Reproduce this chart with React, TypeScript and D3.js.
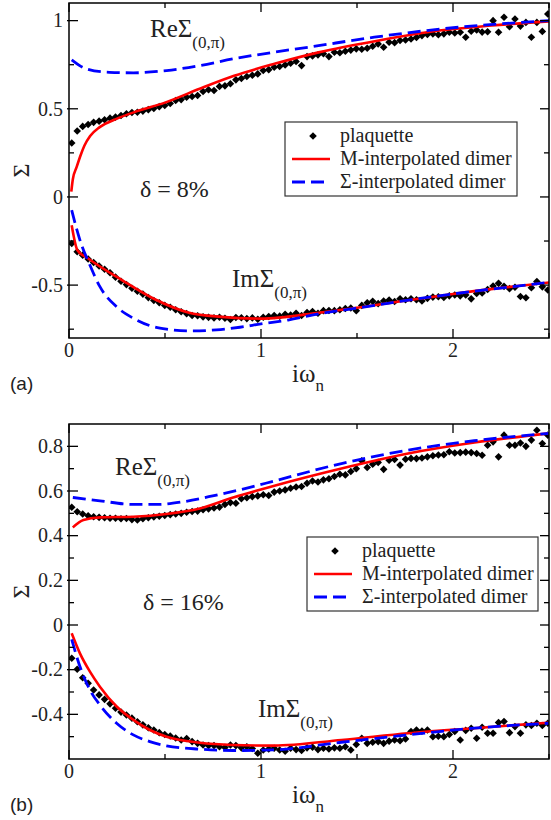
import React from 'react';
import * as d3 from 'd3';

// Matsubara grid (index -> omega)
const OMEGA_0 = 0.01425;
const OMEGA_STEP = 0.0285;

// ---------- Panel (a), delta = 8% ----------
const plaqReA = [
  0.306, 0.374, 0.400, 0.411, 0.423, 0.430, 0.438, 0.447, 0.453, 0.462,
  0.472, 0.479, 0.480, 0.487, 0.495, 0.502, 0.512, 0.519, 0.530, 0.547,
  0.552, 0.566, 0.570, 0.575, 0.598, 0.608, 0.604, 0.627, 0.630, 0.642,
  0.664, 0.672, 0.683, 0.690, 0.698, 0.717, 0.722, 0.736, 0.740, 0.749,
  0.758, 0.768, 0.745, 0.796, 0.800, 0.806, 0.812, 0.796, 0.821, 0.818,
  0.826, 0.833, 0.840, 0.838, 0.843, 0.855, 0.868, 0.849, 0.877, 0.875,
  0.887, 0.890, 0.896, 0.905, 0.915, 0.922, 0.925, 0.920, 0.925, 0.934,
  0.930, 0.934, 0.906, 0.940, 0.947, 0.935, 0.937, 1.000, 0.934, 1.019,
  0.966, 1.009, 0.969, 0.990, 0.906, 0.990, 0.939, 1.038,
];
const plaqImA = [
  -0.264, -0.311, -0.330, -0.352, -0.372, -0.392, -0.410, -0.430, -0.455, -0.478,
  -0.497, -0.518, -0.535, -0.551, -0.571, -0.587, -0.600, -0.615, -0.626, -0.640,
  -0.651, -0.662, -0.672, -0.674, -0.680, -0.683, -0.686, -0.682, -0.688, -0.695,
  -0.684, -0.685, -0.690, -0.686, -0.694, -0.682, -0.678, -0.672, -0.676, -0.666,
  -0.670, -0.660, -0.672, -0.655, -0.650, -0.660, -0.645, -0.644, -0.645, -0.640,
  -0.633, -0.630, -0.645, -0.615, -0.600, -0.592, -0.605, -0.590, -0.585, -0.593,
  -0.577, -0.583, -0.577, -0.583, -0.590, -0.575, -0.568, -0.566, -0.570, -0.561,
  -0.556, -0.561, -0.556, -0.578, -0.548, -0.545, -0.525, -0.505, -0.490, -0.507,
  -0.520, -0.512, -0.565, -0.572, -0.515, -0.480, -0.510, -0.528,
];
const mReA: [number, number][] = [
  [0.012, 0.03], [0.02, 0.10], [0.04, 0.17], [0.06, 0.235], [0.08, 0.29],
  [0.11, 0.345], [0.16, 0.396], [0.25, 0.444], [0.34, 0.481], [0.5, 0.535],
  [0.7, 0.622], [0.86, 0.687], [1.07, 0.755], [1.3, 0.82], [1.6, 0.885],
  [1.94, 0.945], [2.2, 0.972], [2.5, 0.996],
];
const sReA: [number, number][] = [
  [0.014, 0.778], [0.09, 0.727], [0.21, 0.707], [0.335, 0.704], [0.508, 0.717],
  [0.68, 0.745], [0.855, 0.783], [1.067, 0.821], [1.245, 0.849], [1.59, 0.906],
  [1.94, 0.953], [2.5, 1.0],
];
const mImA: [number, number][] = [
  [0.014, -0.16], [0.044, -0.302], [0.1, -0.349], [0.274, -0.47], [0.447, -0.58],
  [0.621, -0.655], [0.794, -0.68], [1.0, -0.69], [1.31, -0.655], [1.66, -0.603],
  [2.0, -0.55], [2.5, -0.485],
];
const sImA: [number, number][] = [
  [0.014, -0.075], [0.057, -0.245], [0.109, -0.387], [0.161, -0.509], [0.248, -0.623],
  [0.335, -0.688], [0.421, -0.73], [0.508, -0.75], [0.63, -0.76], [0.768, -0.754],
  [0.89, -0.739], [1.0, -0.72], [1.141, -0.698], [1.315, -0.66], [1.49, -0.632],
  [1.66, -0.603], [2.0, -0.55], [2.5, -0.485],
];

// ---------- Panel (b), delta = 16% ----------
const plaqReB = [
  0.527, 0.507, 0.497, 0.489, 0.485, 0.482, 0.480, 0.478, 0.478, 0.476,
  0.477, 0.472, 0.470, 0.476, 0.480, 0.484, 0.487, 0.490, 0.494, 0.497,
  0.500, 0.505, 0.508, 0.510, 0.516, 0.520, 0.524, 0.528, 0.540, 0.548,
  0.545, 0.565, 0.570, 0.575, 0.578, 0.583, 0.580, 0.595, 0.600, 0.605,
  0.612, 0.618, 0.620, 0.635, 0.645, 0.640, 0.650, 0.655, 0.665, 0.675,
  0.672, 0.687, 0.700, 0.735, 0.705, 0.720, 0.728, 0.697, 0.738, 0.741,
  0.716, 0.742, 0.746, 0.745, 0.748, 0.753, 0.758, 0.761, 0.762, 0.776,
  0.770, 0.772, 0.774, 0.772, 0.768, 0.760, 0.805, 0.820, 0.753, 0.850,
  0.805, 0.805, 0.815, 0.800, 0.828, 0.872, 0.813, 0.850,
];
const plaqImB = [
  -0.149, -0.198, -0.236, -0.261, -0.291, -0.313, -0.333, -0.353, -0.373, -0.390,
  -0.403, -0.417, -0.433, -0.447, -0.460, -0.470, -0.482, -0.490, -0.497, -0.506,
  -0.515, -0.508, -0.522, -0.530, -0.537, -0.540, -0.540, -0.545, -0.548, -0.537,
  -0.540, -0.550, -0.545, -0.553, -0.574, -0.560, -0.555, -0.552, -0.560, -0.565,
  -0.552, -0.558, -0.562, -0.550, -0.547, -0.558, -0.552, -0.555, -0.550, -0.552,
  -0.545, -0.560, -0.535, -0.507, -0.530, -0.525, -0.522, -0.530, -0.520, -0.515,
  -0.518, -0.510, -0.477, -0.470, -0.475, -0.470, -0.500, -0.498, -0.500, -0.490,
  -0.477, -0.515, -0.472, -0.462, -0.507, -0.458, -0.485, -0.485, -0.437, -0.432,
  -0.482, -0.455, -0.485, -0.447, -0.450, -0.440, -0.450, -0.440,
];
const mReB: [number, number][] = [
  [0.02, 0.437], [0.075, 0.47], [0.161, 0.482], [0.335, 0.485], [0.508, 0.497],
  [0.681, 0.522], [0.855, 0.571], [1.07, 0.624], [1.419, 0.701], [1.766, 0.768],
  [2.112, 0.817], [2.5, 0.858],
];
const sReB: [number, number][] = [
  [0.02, 0.571], [0.161, 0.556], [0.335, 0.54], [0.46, 0.54], [0.595, 0.552],
  [0.768, 0.582], [0.942, 0.616], [1.07, 0.645], [1.419, 0.723], [1.766, 0.783],
  [2.11, 0.825], [2.5, 0.858],
];
const mImB: [number, number][] = [
  [0.014, -0.037], [0.057, -0.127], [0.109, -0.209], [0.161, -0.276], [0.248, -0.365],
  [0.335, -0.425], [0.421, -0.47], [0.508, -0.5], [0.681, -0.527], [0.855, -0.537],
  [1.067, -0.54], [1.419, -0.515], [1.766, -0.485], [2.11, -0.462], [2.5, -0.437],
];
const sImB: [number, number][] = [
  [0.014, -0.064], [0.057, -0.186], [0.109, -0.291], [0.161, -0.358], [0.248, -0.44],
  [0.335, -0.492], [0.421, -0.522], [0.508, -0.541], [0.681, -0.556], [0.855, -0.562],
  [1.067, -0.559], [1.419, -0.525], [1.766, -0.492], [2.11, -0.462], [2.5, -0.44],
];

// ---------- Ticks ----------
const xMajor = [0, 1, 2];
const xMinor = [0.5, 1.5, 2.5];
const yMajorA = [-0.5, 0, 0.5, 1];
const yMinorA = [-0.75, -0.25, 0.25, 0.75];
const yMajorB = [-0.4, -0.2, 0, 0.2, 0.4, 0.6, 0.8];
const yMinorB = [-0.5, -0.3, -0.1, 0.1, 0.3, 0.5, 0.7];
const legendLabels = ['plaquette', 'M-interpolated dimer', 'Σ-interpolated dimer'];

const SERIF = '"Liberation Serif", "Times New Roman", serif';
const SANS = '"Liberation Sans", Arial, sans-serif';
const RED = '#ff0000';
const BLUE = '#0000ff';
const DASH = '13,6';

const fmt = (v: number) => {
  const s = String(Math.round(v * 100) / 100);
  return s;
};

function Diamond({ x, y, r = 3.8 }: { x: number; y: number; r?: number }) {
  return <path d={`M${x},${y - r}L${x + r},${y}L${x},${y + r}L${x - r},${y}Z`} fill="#000" />;
}

type PanelProps = {
  id: string;
  top: number;
  bottom: number;
  yDomain: [number, number];
  yMajor: number[];
  yMinor: number[];
  re: number[];
  im: number[];
  mRe: [number, number][];
  sRe: [number, number][];
  mIm: [number, number][];
  sIm: [number, number][];
  tag: string;
  delta: string;
  reLabel: { x: number; y: number };
  imLabel: { x: number; y: number };
  deltaPos: { x: number; y: number };
  legend: { x: number; y: number; w: number; h: number };
};

function Panel(p: PanelProps) {
  const left = 69, right = 549;
  const x = d3.scaleLinear().domain([0, 2.5]).range([left, right]);
  const y = d3.scaleLinear().domain(p.yDomain).range([p.bottom, p.top]);
  const line = d3.line<[number, number]>().x(d => x(d[0])).y(d => y(d[1])).curve(d3.curveMonotoneX);
  const omega = (i: number) => OMEGA_0 + OMEGA_STEP * i;
  const clipId = `clip-${p.id}`;
  const majLen = 9, minLen = 5;
  const lg = p.legend;
  const rowY = [lg.y + 14, lg.y + 37, lg.y + 60];
  return (
    <g>
      <defs>
        <clipPath id={clipId}>
          <rect x={left} y={p.top} width={right - left} height={p.bottom - p.top} />
        </clipPath>
      </defs>
      <g clipPath={`url(#${clipId})`}>
        {p.re.map((v, i) => <Diamond key={'r' + i} x={x(omega(i))} y={y(v)} />)}
        {p.im.map((v, i) => <Diamond key={'i' + i} x={x(omega(i))} y={y(v)} />)}
        <path d={line(p.mRe) || ''} fill="none" stroke={RED} strokeWidth={2.6} />
        <path d={line(p.mIm) || ''} fill="none" stroke={RED} strokeWidth={2.6} />
        <path d={line(p.sRe) || ''} fill="none" stroke={BLUE} strokeWidth={2.8} strokeDasharray={DASH} />
        <path d={line(p.sIm) || ''} fill="none" stroke={BLUE} strokeWidth={2.8} strokeDasharray={DASH} />
      </g>
      {/* frame */}
      <rect x={left} y={p.top} width={right - left} height={p.bottom - p.top} fill="none" stroke="#000" strokeWidth={1.5} />
      {/* x ticks */}
      {xMajor.map(t => (
        <g key={'xM' + t}>
          <line x1={x(t)} x2={x(t)} y1={p.bottom} y2={p.bottom - majLen} stroke="#000" strokeWidth={1.3} />
          <line x1={x(t)} x2={x(t)} y1={p.top} y2={p.top + majLen} stroke="#000" strokeWidth={1.3} />
          <text x={x(t)} y={p.bottom + 19} textAnchor="middle" fontFamily={SERIF} fontSize={20} fill="#222">{t}</text>
        </g>
      ))}
      {xMinor.map(t => (
        <g key={'xm' + t}>
          <line x1={x(t)} x2={x(t)} y1={p.bottom} y2={p.bottom - minLen} stroke="#000" strokeWidth={1.3} />
          <line x1={x(t)} x2={x(t)} y1={p.top} y2={p.top + minLen} stroke="#000" strokeWidth={1.3} />
        </g>
      ))}
      {/* y ticks */}
      {p.yMajor.map(t => (
        <g key={'yM' + t}>
          <line x1={left - 2} x2={left + majLen} y1={y(t)} y2={y(t)} stroke="#000" strokeWidth={1.3} />
          <line x1={right} x2={right - majLen} y1={y(t)} y2={y(t)} stroke="#000" strokeWidth={1.3} />
          <text x={left - 6} y={y(t)} dy="0.34em" textAnchor="end" fontFamily={SERIF} fontSize={20} fill="#222">{fmt(t)}</text>
        </g>
      ))}
      {p.yMinor.map(t => (
        <g key={'ym' + t}>
          <line x1={left} x2={left + minLen} y1={y(t)} y2={y(t)} stroke="#000" strokeWidth={1.3} />
          <line x1={right} x2={right - minLen} y1={y(t)} y2={y(t)} stroke="#000" strokeWidth={1.3} />
        </g>
      ))}
      {/* axis labels */}
      <text transform={`translate(29,${(p.top + p.bottom) / 2}) rotate(-90)`} textAnchor="middle" fontFamily={SERIF} fontSize={24} fill="#222">Σ</text>
      <text x={292} y={p.bottom + 44} fontFamily={SERIF} fontSize={25} fill="#222">
        iω<tspan fontSize={17} dy={9}>n</tspan>
      </text>
      <text x={10} y={p.bottom + 52} fontFamily={SANS} fontSize={19} fill="#222">{p.tag}</text>
      {/* annotations */}
      <text x={p.reLabel.x} y={p.reLabel.y} fontFamily={SERIF} fontSize={25} fill="#222">
        ReΣ<tspan fontSize={17} dy={11}>(0,π)</tspan>
      </text>
      <text x={p.imLabel.x} y={p.imLabel.y} fontFamily={SERIF} fontSize={25} fill="#222">
        ImΣ<tspan fontSize={17} dy={11}>(0,π)</tspan>
      </text>
      <text x={p.deltaPos.x} y={p.deltaPos.y} fontFamily={SERIF} fontSize={24} fill="#222">{p.delta}</text>
      {/* legend */}
      <rect x={lg.x} y={lg.y} width={lg.w} height={lg.h} fill="#fff" stroke="#333" strokeWidth={1.2} />
      <Diamond x={lg.x + 28} y={rowY[0]} />
      <line x1={lg.x + 7} x2={lg.x + 45} y1={rowY[1]} y2={rowY[1]} stroke={RED} strokeWidth={2.6} />
      <line x1={lg.x + 7} x2={lg.x + 45} y1={rowY[2]} y2={rowY[2]} stroke={BLUE} strokeWidth={2.8} strokeDasharray={DASH} />
      {legendLabels.map((l, i) => (
        <text key={l} x={lg.x + 55} y={rowY[i]} dy="0.32em" fontFamily={SERIF} fontSize={20} fill="#222">{l}</text>
      ))}
    </g>
  );
}

export default function App() {
  return (
    <svg width={551} height={820} style={{ position: 'absolute', left: 0, top: 0, background: '#fff' }}>
      <Panel
        id="a" top={3} bottom={338} yDomain={[-0.8, 1.1]} yMajor={yMajorA} yMinor={yMinorA}
        re={plaqReA} im={plaqImA} mRe={mReA} sRe={sReA} mIm={mImA} sIm={sImA}
        tag="(a)" delta="δ = 8%"
        reLabel={{ x: 150, y: 37 }} imLabel={{ x: 232, y: 287 }} deltaPos={{ x: 140, y: 197 }}
        legend={{ x: 285, y: 122, w: 232, h: 74 }}
      />
      <Panel
        id="b" top={424} bottom={759} yDomain={[-0.6, 0.9]} yMajor={yMajorB} yMinor={yMinorB}
        re={plaqReB} im={plaqImB} mRe={mReB} sRe={sReB} mIm={mImB} sIm={sImB}
        tag="(b)" delta="δ = 16%"
        reLabel={{ x: 115, y: 475 }} imLabel={{ x: 258, y: 717 }} deltaPos={{ x: 143, y: 610 }}
        legend={{ x: 307, y: 537, w: 231, h: 74 }}
      />
    </svg>
  );
}
